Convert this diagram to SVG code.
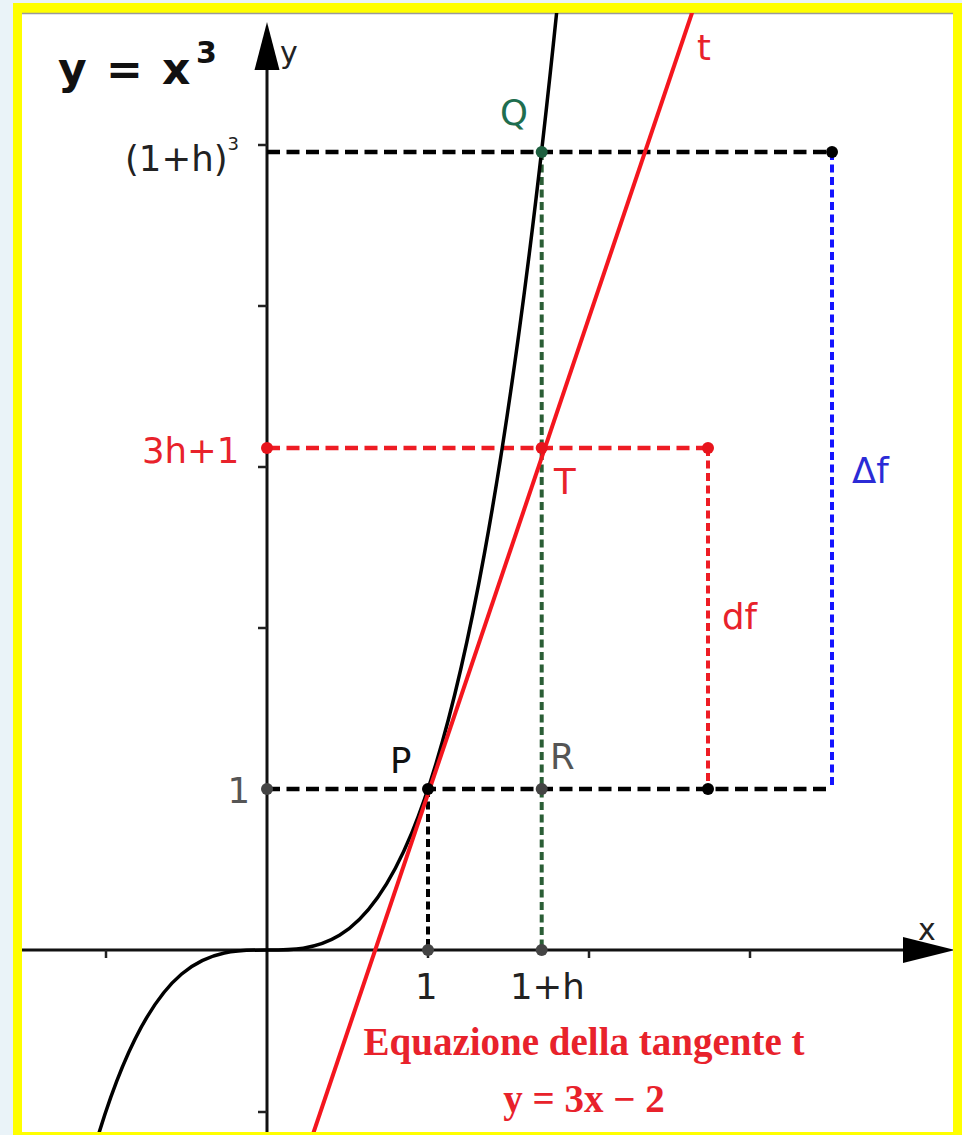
<svg xmlns="http://www.w3.org/2000/svg" width="962" height="1135" viewBox="0 0 962 1135">
<defs>
<style>
.lbl{font-family:"DejaVu Sans","Liberation Sans",sans-serif;font-size:35.5px}
.eq{font-family:"Liberation Serif","Times New Roman",serif;font-weight:bold;font-size:39px;fill:#e8222b}
.hd{stroke:#000;stroke-width:4.5;stroke-dasharray:13 6.5;fill:none}
.vd{stroke-width:4;stroke-dasharray:8 4.5;fill:none}
.tick{stroke:#222;stroke-width:2.5}
</style>
<clipPath id="plot"><rect x="22" y="13" width="931" height="1119"/></clipPath>
</defs>
<rect x="0" y="0" width="962" height="1135" fill="#eaf3f8"/>
<rect x="13" y="3" width="949" height="1132" fill="#ffff00"/>
<rect x="22" y="13" width="931" height="1119" fill="#ffffff"/>
<line x1="22" y1="13.5" x2="953" y2="13.5" stroke="#9a9a9a" stroke-width="1.5"/>

<g clip-path="url(#plot)">
<g id="axes">
<line x1="22" y1="950" x2="910" y2="950" stroke="#111" stroke-width="3"/>
<polygon points="903,937 955,950 903,963" fill="#000"/>
<line x1="267" y1="1140" x2="267" y2="65" stroke="#111" stroke-width="3"/>
<polygon points="254.5,70 267,22 279.5,70" fill="#000"/>
<g id="ticks">
<line class="tick" x1="106" y1="950" x2="106" y2="958"/>
<line class="tick" x1="428" y1="950" x2="428" y2="958"/>
<line class="tick" x1="589" y1="950" x2="589" y2="958"/>
<line class="tick" x1="750" y1="950" x2="750" y2="958"/>
<line class="tick" x1="258" y1="145" x2="267" y2="145"/>
<line class="tick" x1="258" y1="306" x2="267" y2="306"/>
<line class="tick" x1="258" y1="467" x2="267" y2="467"/>
<line class="tick" x1="258" y1="628" x2="267" y2="628"/>
<line class="tick" x1="258" y1="1112" x2="267" y2="1112"/>
</g>
</g>

<g id="connectors">
<line class="hd" x1="267" y1="152" x2="832" y2="152"/>
<line class="hd" x1="267" y1="789" x2="832" y2="789"/>
<line class="hd" x1="267" y1="448" x2="708" y2="448" style="stroke:#ee1c24"/>
<line class="vd" x1="708" y1="448" x2="708" y2="789" stroke="#ee1c24"/>
<line class="vd" x1="832" y1="152" x2="832" y2="789" stroke="#1414ff"/>
<line class="vd" x1="428" y1="789" x2="428" y2="950" stroke="#000"/>
<line class="vd" x1="541.7" y1="152" x2="541.7" y2="950" stroke="#2b5e36"/>
</g>

<g id="curve">
<path d="M96.34,1141.75 C249.83,624.38 403.31,1502.94 556.8,11.05" fill="none" stroke="#000" stroke-width="3.5"/>
</g>
<g id="tangent">
<line x1="312.08" y1="1136.76" x2="693.65" y2="8.05" stroke="#f4161e" stroke-width="4"/>
</g>
</g>

<g id="title">
<text font-family="'DejaVu Sans','Liberation Sans',sans-serif" font-weight="bold" font-size="44" fill="#111"><tspan x="58" y="84">y</tspan><tspan x="106" y="84">=</tspan><tspan x="162" y="84">x</tspan><tspan x="196" y="63" font-size="30">3</tspan></text>
</g>
<g id="axis-labels">
<text class="lbl" x="280" y="63" fill="#222" style="font-size:30px">y</text>
<text class="lbl" x="918" y="940" fill="#222" style="font-size:30px">x</text>
<text class="lbl" x="415" y="999" fill="#222">1</text>
<text class="lbl" x="510" y="999" fill="#222">1+h</text>
</g>

<g id="node-Q">
<circle cx="541.7" cy="152" r="6" fill="#1e6040"/>
<text class="lbl" x="500" y="125" fill="#1f6e4f">Q</text>
</g>
<g id="node-T">
<circle cx="541.7" cy="448" r="6" fill="#e8141c"/>
<text class="lbl" x="554" y="494" fill="#e8222b">T</text>
</g>
<g id="node-P">
<circle cx="428" cy="789" r="6" fill="#000"/>
<text class="lbl" x="390" y="773" fill="#111">P</text>
</g>
<g id="node-R">
<circle cx="541.7" cy="789" r="6" fill="#444"/>
<text class="lbl" x="550" y="769" fill="#555">R</text>
</g>
<g id="node-y1">
<circle cx="267" cy="789" r="6" fill="#444"/>
<text class="lbl" x="250" y="803" text-anchor="end" fill="#555">1</text>
</g>
<g id="node-y3h1">
<circle cx="267" cy="448" r="6" fill="#e8141c"/>
<text class="lbl" x="142" y="463" fill="#e8222b">3h+1</text>
</g>
<g id="node-y1h3">
<text class="lbl" x="125" y="171" fill="#222">(1+h)<tspan dy="-21" style="font-size:18px">3</tspan></text>
</g>
<g id="node-x1">
<circle cx="428" cy="950" r="6" fill="#444"/>
</g>
<g id="node-x1h">
<circle cx="541.7" cy="950" r="6" fill="#444"/>
</g>
<g id="node-df-top">
<circle cx="708" cy="448" r="6" fill="#e8141c"/>
</g>
<g id="node-df-bottom">
<circle cx="708" cy="789" r="6" fill="#000"/>
</g>
<g id="node-Df-top">
<circle cx="832" cy="152" r="6" fill="#000"/>
</g>
<g id="labels">
<text class="lbl" x="697" y="60" fill="#e8222b">t</text>
<text class="lbl" x="722" y="629" fill="#e8222b">df</text>
<text class="lbl" x="852" y="483" fill="#2b2bd6">Δf</text>
</g>
<g id="equation">
<text class="eq" x="584" y="1055" text-anchor="middle">Equazione della tangente t</text>
<text class="eq" x="584" y="1112" text-anchor="middle">y = 3x − 2</text>
</g>
</svg>
